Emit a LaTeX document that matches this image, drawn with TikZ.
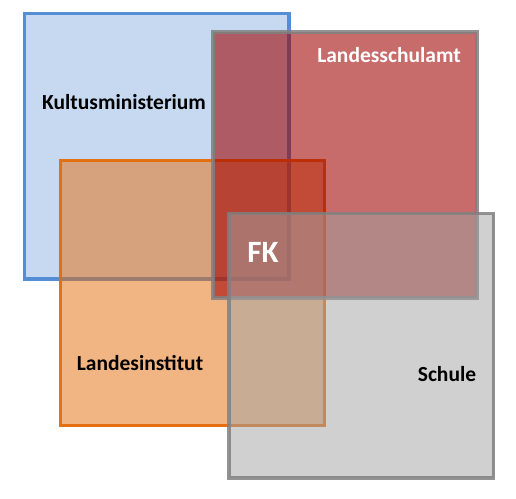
\documentclass[tikz,border=0pt]{standalone}
\usepackage{fontspec}
\setmainfont{Carlito}
\definecolor{kmfill}{RGB}{198,217,241}
\definecolor{kmline}{RGB}{85,142,213}
\definecolor{liorange}{RGB}{228,108,10}
\definecolor{lsared}{RGB}{160,0,0}
\definecolor{boxgray}{RGB}{128,128,128}
\definecolor{schfill}{RGB}{163,163,163}
\tikzset{
  field/.style={line width=3.5pt},
  lbl/.style={font=\bfseries\fontsize{21.5}{21.5}\selectfont, inner sep=0pt},
  fk/.style={font=\bfseries\fontsize{31}{31}\selectfont, inner sep=0pt, text=white}
}
\begin{document}
\begin{tikzpicture}[x=1pt,y=-1pt]
\useasboundingbox (0,0) rectangle (516,498);
% Kultusministerium
\draw[field, draw=kmline, fill=kmfill] (24.7,13.7) rectangle (289,279);
% Landesinstitut
\draw[field, draw=liorange, fill=liorange, fill opacity=0.5, draw opacity=0.95] (60.5,160.5) rectangle (324.5,425.5);
% Landesschulamt
\draw[field, draw=boxgray, fill=lsared, fill opacity=0.58, draw opacity=0.85] (213,32) rectangle (477,298);
% Schule
\draw[field, draw=boxgray, fill=schfill, fill opacity=0.51, draw opacity=0.85] (229,213.7) rectangle (493.7,477.8);
% labels
\node[lbl] (km) at (124,102) {Kultusministerium};
\node[lbl, text=white] (lsa) at (389,55) {Landesschulamt};
\node[lbl] (li) at (140,363) {Landesinstitut};
\node[lbl] (sch) at (447,374) {Schule};
\node[fk] (fkl) at (263,252) {FK};
\end{tikzpicture}
\end{document}
